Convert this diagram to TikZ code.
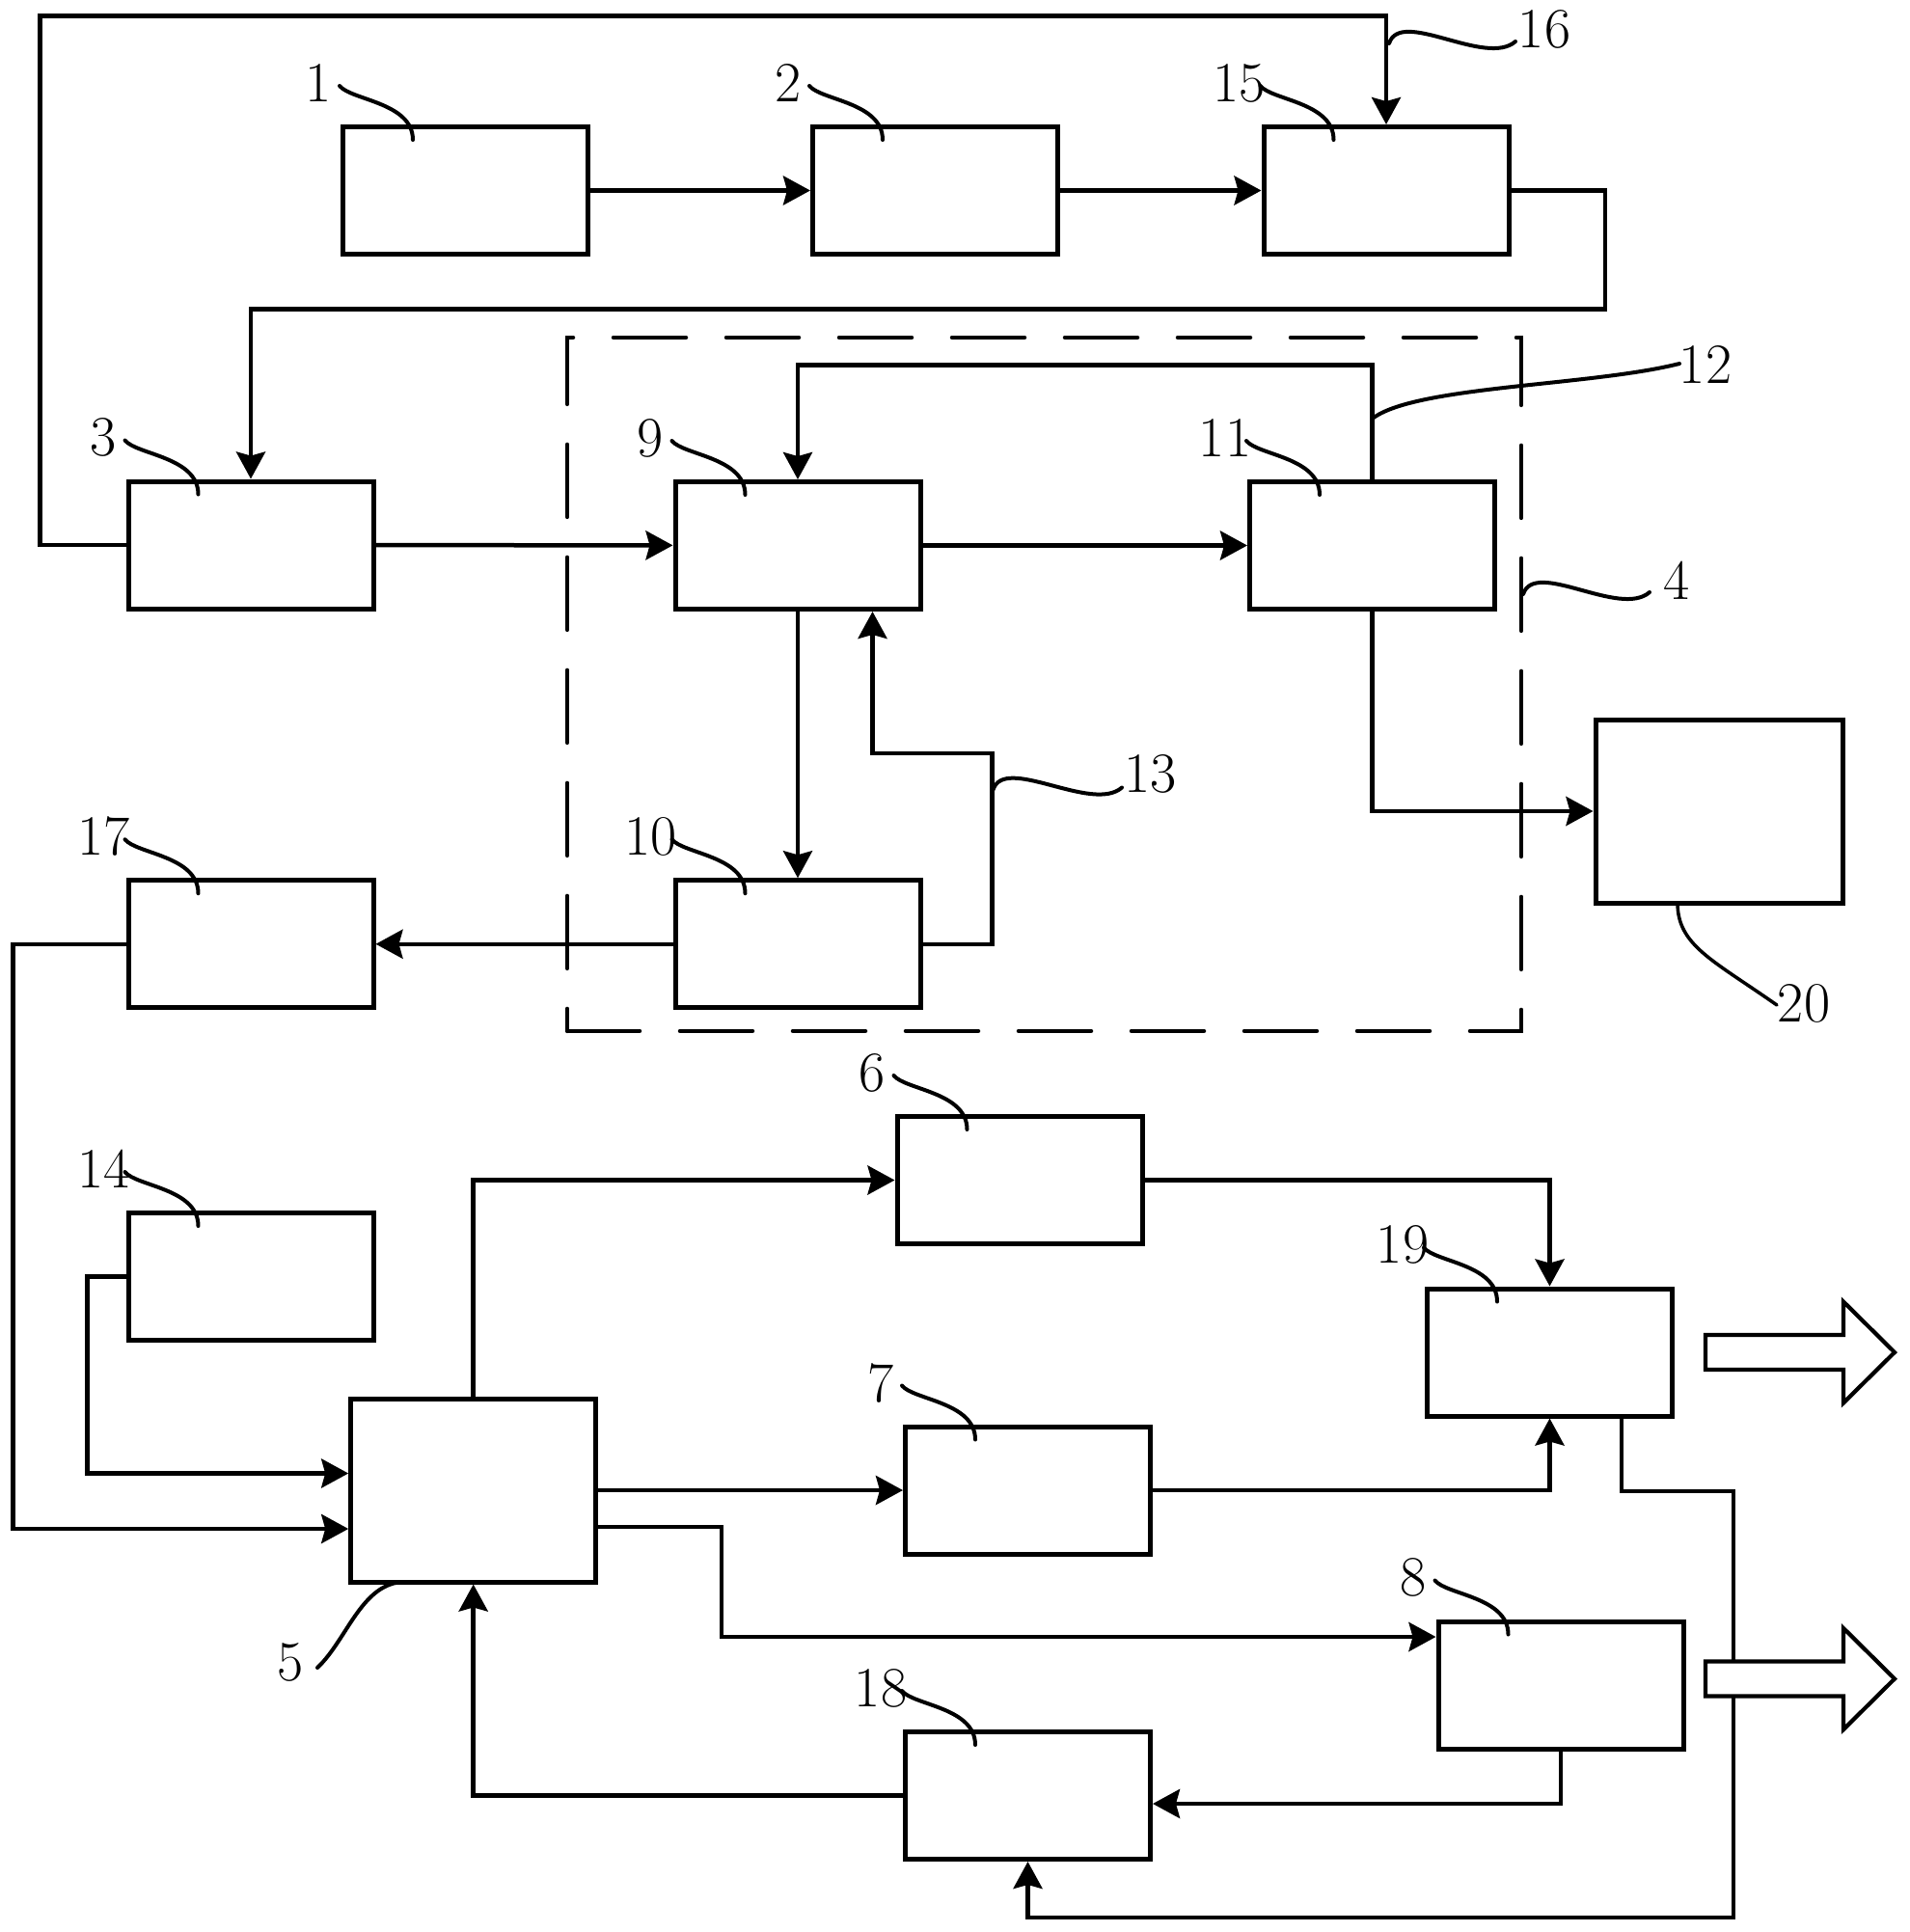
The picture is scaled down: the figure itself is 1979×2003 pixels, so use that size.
\documentclass[tikz,border=0pt]{standalone}
\usetikzlibrary{arrows.meta,calc}

\begin{document}
\begin{tikzpicture} [
  x = 1pt, y = -1pt,
  bloc/.style = {rectangle, draw = black, line width = 5pt, inner sep = 0pt, minimum width = 254pt, minimum height = 132pt},
  grand/.style = {bloc, minimum height = 190pt},
  line/.style = {draw, line width = 4.5pt, -{Stealth[length=28pt, width=30pt, inset=4pt]}},
  trait/.style = {draw, line width = 4pt, line cap = round},
  num/.style = {inner sep = 0pt, font = \fontsize{59}{60}\selectfont},
  cadre/.style = {rectangle, draw, line width = 4.5pt, line cap = round, dash pattern = on 75pt off 42pt, inner sep = 0pt},
  sortie/.style = {draw, line width = 4.2pt, fill = white},
]

\useasboundingbox (0,0) rectangle (1979,2003);

 \node [cadre, minimum width = 989pt, minimum height = 719pt] (b4) at (1082.5,709.4) {};

 \node [bloc] (b1) at (482.5,197.5) {};
 \node [bloc] (b2) at (969.5,197.5) {};
 \node [bloc] (b15) at (1437,197.5) {};

 \node [bloc] (b3) at (260,565) {};
 \node [bloc] (b9) at (827,565.5) {};
 \node [bloc] (b11) at (1422.5,565.5) {};

 \node [bloc] (b10) at (827,978.75) {};
 \node [bloc] (b17) at (260,978.75) {};
 \node [bloc, minimum width = 256pt, minimum height = 190pt] (b20) at (1782,841) {};

 \node [bloc] (b14) at (260,1323.5) {};
 \node [grand] (b5) at (490.7,1545) {};
 \node [bloc] (b6) at (1057,1223.5) {};
 \node [bloc] (b7) at (1065.5,1545) {};
 \node [bloc] (b19) at (1606.5,1402) {};
 \node [bloc] (b8) at (1618,1747) {};
 \node [bloc] (b18) at (1065.5,1861.5) {};

 \coordinate (c1) at (1664,320.5);
 \coordinate (c2) at (41.5,16.5);
 \coordinate (c3) at (1422.5,378.6);
 \coordinate (c4) at (1028.6,780.8);
 \coordinate (c5) at (13.4,1585);
 \coordinate (c6) at (90.6,1527.5);
 \coordinate (c7) at (748,1697);
 \coordinate (c8) at (1797,1546);
 \coordinate (c9) at (1797,1988);

 \begin{scope}[every path/.style=line]
\path (b1) -- (b2) ;
\path (b2) -- (b15) ;
\path (b15.east) -| (c1) -| (b3.north) ;
\path (b3.west) -| (c2) -| (b15.north) ;
\path (b3) -- (b9) ;
\path (b9) -- (b11) ;
\path (b11.north) -- (c3) -| (b9.north) ;
\path (b9) -- (b10) ;
\path (b10.east) -| (c4) -| ($(b9.south)+(77.5,0)$) ;
\path (b10) -- (b17) ;
\path (b11.south) |- (b20.west) ;
\path (b17.west) -| (c5) -- ($(b5.west)+(0,40)$) ;
\path (b14.west) -| (c6) -- ($(b5.west)+(0,-17.5)$) ;
\path (b5.north) |- (b6.west) ;
\path (b5.east) -- (b7.west) ;
\path ($(b5.east)+(0,38)$) -| (c7) -- ($(b8.west)+(0,-50)$) ;
\path (b6.east) -| (b19.north) ;
\path (b7.east) -| (b19.south) ;
\path ($(b19.south)+(74.5,0)$) |- (c8) -- (c9) -| (b18.south) ;
\path (b8.south) |- ($(b18.east)+(0,8.5)$) ;
\path (b18.west) -| (b5.south) ;
\end{scope}

\foreach \y in {1402,1740.5}
  \draw [sortie] (1768,\y-18) -- (1911,\y-18) -- (1911,\y-52.5) -- (1964,\y) -- (1911,\y+52.5) -- (1911,\y+18) -- (1768,\y+18) -- cycle;

\foreach \b/\n in {b1/1, b2/2, b15/15, b3/3, b9/9, b11/11, b10/10, b17/17, b14/14, b6/6, b7/7, b19/19, b8/8, b18/18} {
  \node [num] (n\n) at ($(\b.north west)+(-23,-43)$) {\n};
  \draw [trait] ($(\b.north west)+(-1,-40)$) .. controls ($(\b.north west)+(11,-25)$) and ($(\b.north west)+(75,-23)$) .. ($(\b.north west)+(75,16)$);
}

\node [num] (n16) at (1601,30) {16};
\node [num] (n12) at (1768,378) {12};
\node [num] (n4) at (1738,601.6) {4};
\node [num] (n13) at (1192.5,802.5) {13};
\node [num] (n20) at (1870,1040) {20};
\node [num] (n5) at (301,1723) {5};

\draw [trait] (1440,45) .. controls (1452,8) and (1540,70) .. (1571,43);
\draw [trait] (1424,433) .. controls (1470,400) and (1650,400) .. (1741,377);
\draw [trait] (1579,616) .. controls (1591,579) and (1679,641) .. (1710,614);
\draw [trait] (1029.5,818.7) .. controls (1041.5,782) and (1132,843.5) .. (1163,816.5);
\draw [trait, line width = 3.5pt] (1739,936) .. controls (1739,980) and (1775,995) .. (1842,1042);
\draw [trait] (329,1729) .. controls (360,1700) and (375,1640) .. (420,1640);

\end{tikzpicture}
\end{document}
